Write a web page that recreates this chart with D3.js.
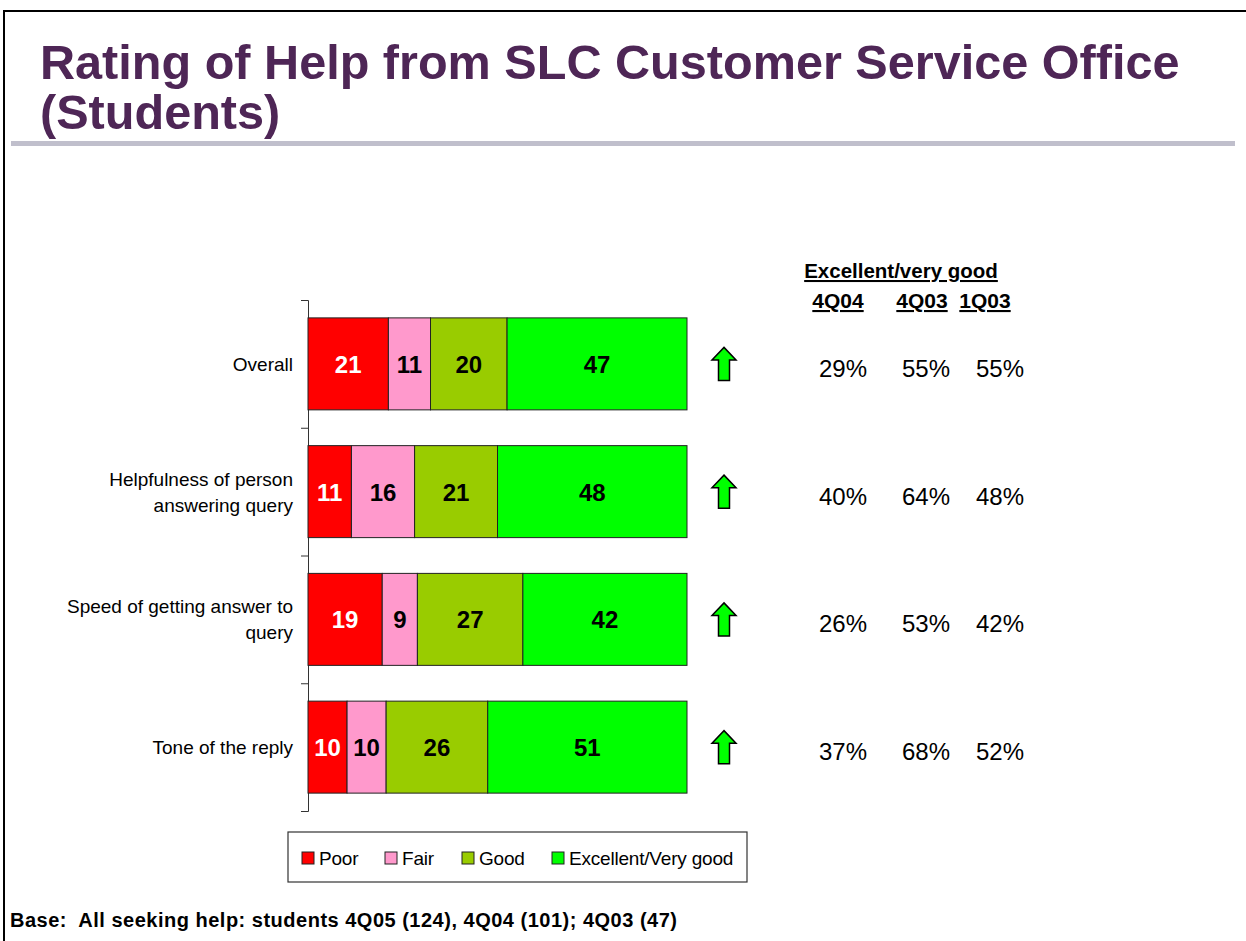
<!DOCTYPE html>
<html>
<head>
<meta charset="utf-8">
<script src="https://cdn.jsdelivr.net/npm/d3@7"></script>
<style>
  html, body { margin: 0; padding: 0; background: #fff; }
  svg text { font-family: "Liberation Sans", Arial, sans-serif; }
</style>
</head>
<body>
<svg id="chart" width="1246" height="941"></svg>
<script>
// rating categories (label lines)
const categories = [
    ["Overall"],
    ["Helpfulness of person", "answering query"],
    ["Speed of getting answer to", "query"],
    ["Tone of the reply"]
];
const seriesNames = ["Poor", "Fair", "Good", "Excellent/Very good"];
const poor = [21, 11, 19, 10];
const fair = [11, 16, 9, 10];
const good = [20, 21, 27, 26];
const excellent = [47, 48, 42, 51];

// excellent/very good in earlier waves
const periods = ["4Q04", "4Q03", "1Q03"];
const q4_04 = [29, 40, 26, 37];
const q4_03 = [55, 64, 53, 68];
const q1_03 = [55, 48, 42, 52];

const colors = ["#ff0000", "#ff99cc", "#99cc00", "#00ff00"];
const labelColors = ["#fff", "#000", "#000", "#000"];

let svg = d3.select("#chart");

// frame
svg.append("line").attr("x1", 4).attr("x2", 1246).attr("y1", 11).attr("y2", 11)
    .attr("stroke", "#000").attr("stroke-width", 2);
svg.append("line").attr("x1", 4).attr("x2", 4).attr("y1", 10).attr("y2", 941)
    .attr("stroke", "#000").attr("stroke-width", 2);

// title
let title = svg.append("text")
    .attr("x", 40)
    .attr("font-size", 48.6)
    .attr("font-weight", "bold")
    .attr("fill", "#4e2656");
title.append("tspan").attr("x", 40).attr("y", 79).text("Rating of Help from SLC Customer Service Office");
title.append("tspan").attr("x", 40).attr("y", 129).text("(Students)");

svg.append("rect").attr("x", 11).attr("y", 141).attr("width", 1224).attr("height", 5).attr("fill", "#c0bfcc");

// data table
let rows = categories.map((c, i) => ({
    label: c,
    Poor: poor[i],
    Fair: fair[i],
    Good: good[i],
    "Excellent/Very good": excellent[i],
    prev: [q4_04[i], q4_03[i], q1_03[i]]
}));

let stacked = d3.stack().keys(seriesNames).offset(d3.stackOffsetExpand)(rows);

let x = d3.scaleLinear().domain([0, 1]).range([308, 687]);
let y = d3.scaleBand()
    .domain(d3.range(rows.length))
    .range([300, 811])
    .paddingInner(0.28)
    .paddingOuter(0.14);

// axis with ticks at category boundaries
let yEdge = d3.scaleLinear().domain([0, rows.length]).range([300, 811]);
let axisG = svg.append("g").attr("transform", "translate(308,0)")
    .call(d3.axisLeft(yEdge).ticks(rows.length).tickFormat("").tickSize(7).tickSizeOuter(7));
axisG.select(".domain").attr("stroke", "#333");
axisG.selectAll(".tick line").attr("stroke", "#333");

// category labels
categories.forEach((lines, i) => {
    let cy = y(i) + y.bandwidth() / 2;
    let t = svg.append("text")
        .attr("text-anchor", "end")
        .attr("font-size", 19)
        .attr("fill", "#000");
    let lh = 26;
    lines.forEach((ln, j) => {
        t.append("tspan")
            .attr("x", 293)
            .attr("y", cy + 7 + (j - (lines.length - 1) / 2) * lh)
            .text(ln);
    });
});

// bars
let layers = svg.selectAll(".layer").data(stacked).join("g").attr("class", "layer");
layers.selectAll("rect")
    .data((d, k) => d.map((v, i) => ({ v, i, k, val: rows[i][seriesNames[k]] })))
    .join("rect")
    .attr("x", d => x(d.v[0]))
    .attr("width", d => x(d.v[1]) - x(d.v[0]))
    .attr("y", d => y(d.i))
    .attr("height", y.bandwidth())
    .attr("fill", d => colors[d.k])
    .attr("stroke", "#222")
    .attr("stroke-width", 1);

layers.selectAll("text")
    .data((d, k) => d.map((v, i) => ({ v, i, k, val: rows[i][seriesNames[k]] })))
    .join("text")
    .attr("x", d => (x(d.v[0]) + x(d.v[1])) / 2)
    .attr("y", d => y(d.i) + y.bandwidth() / 2 + 9)
    .attr("text-anchor", "middle")
    .attr("font-size", 24)
    .attr("font-weight", "bold")
    .attr("fill", d => labelColors[d.k])
    .text(d => d.val);

// up arrows
let arrowPath = "M0,-16.5 L12,-4 L5.5,-4 L5.5,16.5 L-5.5,16.5 L-5.5,-4 L-12,-4 Z";
rows.forEach((r, i) => {
    svg.append("path")
        .attr("d", arrowPath)
        .attr("transform", `translate(724,${y(i) + y.bandwidth() / 2})`)
        .attr("fill", "#00ff00")
        .attr("stroke", "#000")
        .attr("stroke-width", 1.5);
});

// comparison columns
let colX = [843, 926, 1000];
let headX = [838, 922, 985];
svg.append("text")
    .attr("x", 901).attr("y", 278)
    .attr("text-anchor", "middle")
    .attr("font-size", 20.5)
    .attr("font-weight", "bold")
    .style("text-decoration", "underline")
    .text("Excellent/very good");
periods.forEach((p, j) => {
    svg.append("text")
        .attr("x", headX[j]).attr("y", 308)
        .attr("text-anchor", "middle")
        .attr("font-size", 21)
        .attr("font-weight", "bold")
        .style("text-decoration", "underline")
        .text(p);
});
rows.forEach((r, i) => {
    r.prev.forEach((v, j) => {
        svg.append("text")
            .attr("x", colX[j])
            .attr("y", y(i) + y.bandwidth() / 2 + 13)
            .attr("text-anchor", "middle")
            .attr("font-size", 24)
            .attr("fill", "#000")
            .text(v + "%");
    });
});

// legend
let lg = svg.append("g");
lg.append("rect").attr("x", 288).attr("y", 832).attr("width", 459).attr("height", 50)
    .attr("fill", "#fff").attr("stroke", "#333").attr("stroke-width", 1.2);
let legX = [302, 385, 462, 552];
seriesNames.forEach((s, k) => {
    lg.append("rect").attr("x", legX[k]).attr("y", 852).attr("width", 12).attr("height", 12)
        .attr("fill", colors[k]).attr("stroke", "#222").attr("stroke-width", 1);
    lg.append("text").attr("x", legX[k] + 17).attr("y", 865)
        .attr("font-size", 19)
        .attr("letter-spacing", "-0.2")
        .text(s);
});

// base note
svg.append("text")
    .attr("x", 10).attr("y", 927)
    .attr("font-size", 20)
    .attr("font-weight", "bold")
    .attr("letter-spacing", "0.5")
    .style("white-space", "pre")
    .text("Base:  All seeking help: students 4Q05 (124), 4Q04 (101); 4Q03 (47)");
</script>
</body>
</html>
